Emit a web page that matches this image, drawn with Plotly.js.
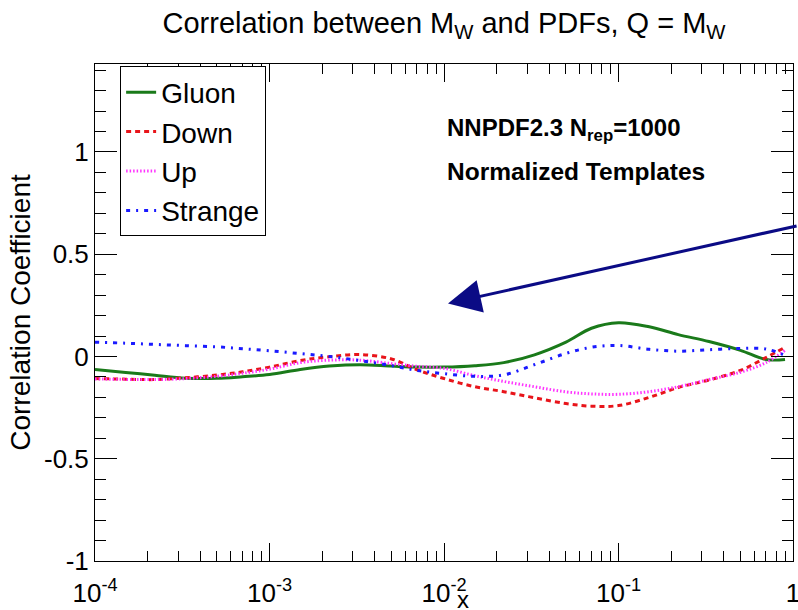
<!DOCTYPE html>
<html>
<head>
<meta charset="utf-8">
<script src="https://cdn.plot.ly/plotly-3.0.1.min.js"></script>
<style>html,body{margin:0;padding:0;background:#fff;}#chart{width:798px;height:610px;}</style>
</head>
<body>
<div id="chart"></div>
<script>
// Momentum fraction x (read positions)
const xValues = [1e-4, 1.5e-4, 2.2e-4, 3.3e-4, 5e-4, 7e-4, 1e-3, 1.5e-3, 2.2e-3, 3.3e-3, 5e-3, 7e-3,
                 1e-2, 1.5e-2, 2.2e-2, 3.3e-2, 5e-2, 7e-2, 0.1, 0.15, 0.22, 0.33, 0.5, 0.7, 0.9];
const gluon   = [-0.064, -0.078, -0.092, -0.106, -0.107, -0.099, -0.088, -0.064, -0.047, -0.040, -0.047, -0.052,
                 -0.052, -0.045, -0.030, 0.008, 0.070, 0.138, 0.165, 0.145, 0.107, 0.073, 0.030, -0.015, -0.015];
const down    = [-0.108, -0.111, -0.113, -0.104, -0.091, -0.075, -0.052, -0.020, -0.001, 0.009, -0.012, -0.065,
                 -0.108, -0.148, -0.172, -0.202, -0.230, -0.243, -0.240, -0.200, -0.152, -0.115, -0.068, -0.005, 0.045];
const up      = [-0.110, -0.112, -0.113, -0.108, -0.097, -0.082, -0.062, -0.030, -0.018, -0.018, -0.035, -0.048,
                 -0.058, -0.094, -0.122, -0.148, -0.173, -0.183, -0.185, -0.172, -0.148, -0.113, -0.077, -0.030, 0.030];
const strange = [0.070, 0.065, 0.059, 0.053, 0.047, 0.038, 0.028, 0.014, 0.000, -0.020, -0.045, -0.068,
                 -0.084, -0.097, -0.090, -0.040, 0.015, 0.045, 0.054, 0.035, 0.026, 0.033, 0.039, 0.037, 0.005];

const seriesNames = ["Gluon", "Down", "Up", "Strange"];
const xTickVals = [1e-4, 1e-3, 1e-2, 1e-1, 1];
const xTickText = ["10<sup>-4</sup>", "10<sup>-3</sup>", "10<sup>-2</sup>", "10<sup>-1</sup>", "1"];
const yTickVals = [-1, -0.5, 0, 0.5, 1];
const yTickText = ["-1", "-0.5", "0", "0.5", "1"];

const FONT = "Liberation Sans, Arial, Helvetica, sans-serif";

const traces = [
  {x: xValues, y: gluon, name: seriesNames[0], mode: "lines",
   line: {color: "#1a7a1a", width: 3, dash: "solid", shape: "spline"}},
  {x: xValues, y: down, name: seriesNames[1], mode: "lines",
   line: {color: "#e8141a", width: 3, dash: "5px,4px", shape: "spline"}},
  {x: xValues, y: up, name: seriesNames[2], mode: "lines",
   line: {color: "#ff33ff", width: 3, dash: "1.5px,2px", shape: "spline"}},
  {x: xValues, y: strange, name: seriesNames[3], mode: "lines",
   line: {color: "#1a1aff", width: 3, dash: "4px,6px,2px,6px", shape: "spline"}}
];

const layout = {
  width: 798, height: 610,
  margin: {l: 95, r: 5, t: 64, b: 49},
  paper_bgcolor: "#fff", plot_bgcolor: "#fff",
  font: {family: FONT, color: "#000", size: 26},
  showlegend: true,
  title: {text: "Correlation between M<sub>W</sub> and PDFs, Q = M<sub>W</sub>",
          font: {family: FONT, size: 29, color: "#000"},
          xref: "paper", x: 0.5, xanchor: "center",
          yref: "container", y: 0.962, yanchor: "middle"},
  xaxis: {type: "log", range: [-4, 0], tickvals: xTickVals, ticktext: xTickText,
          ticks: "inside", ticklen: 18, tickwidth: 1, tickcolor: "#000",
          showline: true, linecolor: "#000", linewidth: 1, mirror: "ticks",
          showgrid: false, zeroline: false, ticklabelstandoff: 9, ticklabeloverflow: "allow",
          tickfont: {family: FONT, size: 26, color: "#000"},
          minor: {ticks: "inside", ticklen: 10, tickcolor: "#000", dtick: "D1", showgrid: false}},
  yaxis: {range: [-1, 1.43], tickvals: yTickVals, ticktext: yTickText,
          ticks: "inside", ticklen: 22, tickwidth: 1, tickcolor: "#000",
          showline: true, linecolor: "#000", linewidth: 1, mirror: "ticks",
          showgrid: false, zeroline: false, ticklabeloverflow: "allow",
          tickfont: {family: FONT, size: 26, color: "#000"},
          title: {text: "Correlation Coefficient", font: {family: FONT, size: 28, color: "#000"}, standoff: 5},
          minor: {ticks: "inside", ticklen: 11, tickcolor: "#000", dtick: 0.1, showgrid: false}},
  legend: {x: 0.036, y: 0.995, xanchor: "left", yanchor: "top",
           bgcolor: "#fff", bordercolor: "#000", borderwidth: 1,
           font: {family: FONT, size: 28, color: "#000"}, tracegroupgap: 0},
  annotations: [
    {xref: "paper", yref: "paper", x: 0.502, y: 0.869, xanchor: "left", yanchor: "middle",
     text: "<b>NNPDF2.3 N<sub>rep</sub>=1000</b>", showarrow: false,
     font: {family: FONT, size: 24, color: "#000"}},
    {xref: "paper", yref: "paper", x: 0.502, y: 0.783, xanchor: "left", yanchor: "middle",
     text: "<b>Normalized Templates</b>", showarrow: false,
     font: {family: FONT, size: 24.5, color: "#000"}},
    {xref: "paper", yref: "paper", x: 0.527, y: -0.077, xanchor: "center", yanchor: "middle",
     text: "x", showarrow: false, font: {family: FONT, size: 24, color: "#000"}},
    {xref: "x", yref: "y", x: -1.977, y: 0.259, axref: "x", ayref: "y", ax: 0.029, ay: 0.64,
     text: "", showarrow: true, arrowhead: 2, arrowsize: 2.2, arrowwidth: 3, arrowcolor: "#0b0b85"}
  ]
};

Plotly.newPlot("chart", traces, layout, {staticPlot: true, displayModeBar: false});
</script>
</body>
</html>
